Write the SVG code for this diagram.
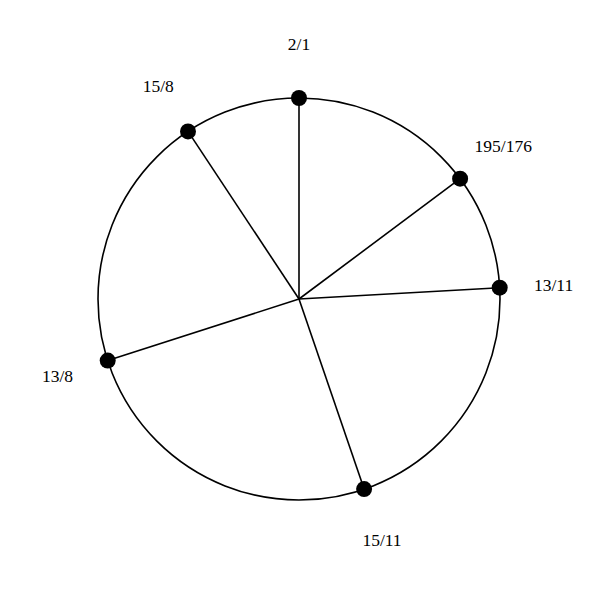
<svg xmlns="http://www.w3.org/2000/svg" width="600" height="600" viewBox="0 0 600 600">
<style>
.ring{fill:none;stroke:#000;stroke-width:1.6}
.spoke{stroke:#000;stroke-width:1.6}
.dot{fill:#000}
.lbl{font-family:"Liberation Serif","Times New Roman",serif;font-size:17.5px;fill:#000;text-anchor:middle}
</style>
<rect width="600" height="600" fill="#fff"/>
<circle class="ring" cx="299" cy="299" r="201"/>
<g id="connectors">
<line class="spoke" x1="299" y1="299" x2="299" y2="98"/>
<line class="spoke" x1="299" y1="299" x2="460.1" y2="178.7"/>
<line class="spoke" x1="299" y1="299" x2="499.7" y2="287.7"/>
<line class="spoke" x1="299" y1="299" x2="364.1" y2="489.1"/>
<line class="spoke" x1="299" y1="299" x2="107.7" y2="360.6"/>
<line class="spoke" x1="299" y1="299" x2="188" y2="131.4"/>
</g>
<g id="n-2-1"><circle class="dot" cx="299" cy="98" r="8"/><text class="lbl" x="299" y="50">2/1</text></g>
<g id="n-195-176"><circle class="dot" cx="460.1" cy="178.7" r="8"/><text class="lbl" x="503.3" y="152.4">195/176</text></g>
<g id="n-13-11"><circle class="dot" cx="499.7" cy="287.7" r="8"/><text class="lbl" x="553.6" y="290.6">13/11</text></g>
<g id="n-15-11"><circle class="dot" cx="364.1" cy="489.1" r="8"/><text class="lbl" x="382" y="546.2">15/11</text></g>
<g id="n-13-8"><circle class="dot" cx="107.7" cy="360.6" r="8"/><text class="lbl" x="57.5" y="382">13/8</text></g>
<g id="n-15-8"><circle class="dot" cx="188" cy="131.4" r="8"/><text class="lbl" x="158.2" y="92.4">15/8</text></g>
</svg>
